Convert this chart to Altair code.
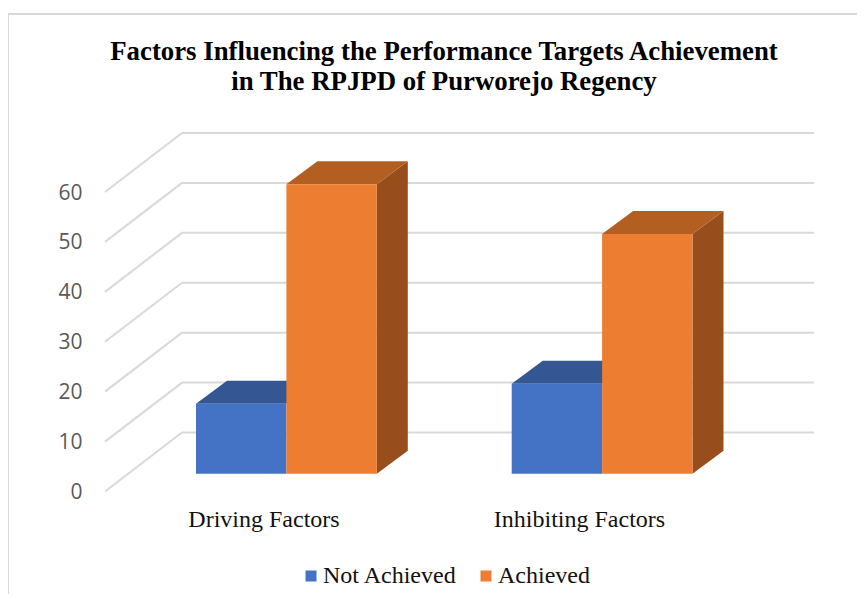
import altair as alt
import pandas as pd

TITLE_LINES = ["Factors Influencing the Performance Targets Achievement",
               "in The RPJPD of Purworejo Regency"]
CATEGORIES = ["Driving Factors", "Inhibiting Factors"]
SERIES = ["Not Achieved", "Achieved"]
NOT_ACHIEVED = [14, 18]
ACHIEVED = [58, 48]
TICKS = [0, 10, 20, 30, 40, 50, 60]

# projection constants of the 3-D look (x in px from the front-left corner, y in value units)
W, H = 752, 299.5
UNIT = H / 60
WALL_DX, WALL_LIFT = 77, 59 / UNIT
WALL_END = 709
FLOOR_LIFT = 17.8 / UNIT
BAR_DX, BAR_LIFT = 31, 23 / UNIT
BAR_W = 90.4
GROUP_X = [91, 406.7]
LABEL_X = [158.5, 474]

BLUE, ORANGE = "#4472c4", "#ed7d31"
BLUE_TOP, ORANGE_TOP, ORANGE_SIDE = "#345793", "#b45f22", "#984e1c"
GRID = "#d9d9d9"
SERIF = "Liberation Serif"

x_scale = alt.Scale(domain=[0, W], range=[0, W], nice=False, zero=False)
y_scale = alt.Scale(domain=[0, 60], nice=False, zero=False)

x_axis = alt.Axis(values=LABEL_X, ticks=False, domain=False, grid=False, labelPadding=16,
                  labelFont=SERIF, labelFontSize=24, labelColor="#111111",
                  labelExpr=f"datum.value < 300 ? '{CATEGORIES[0]}' : '{CATEGORIES[1]}'")
y_axis = alt.Axis(values=TICKS, ticks=False, domain=False, grid=False, labelPadding=23, labelOffset=1,
                  labelFont="Open Sans", labelFontSize=21, labelColor="#595959")
X = alt.X("x:Q", scale=x_scale, title=None, axis=x_axis, stack=None)
Y = alt.Y("y:Q", scale=y_scale, title=None, axis=y_axis, stack=None)

fronts, face_layers_top, face_layers_side = {}, {}, {}
for gi, cat in enumerate(CATEGORIES):
    for si, (name, vals) in enumerate(zip(SERIES, [NOT_ACHIEVED, ACHIEVED])):
        v = vals[gi]
        x0 = GROUP_X[gi] + si * BAR_W
        x1 = x0 + BAR_W
        yb = FLOOR_LIFT
        yt = FLOOR_LIFT + v
        fronts.setdefault(name, []).append(dict(series=name, x=x0, x2=x1, y=yb, y2=yt))
        face_layers_top.setdefault(name, []).append(pd.DataFrame([
            dict(x=x0, x2=x1, y=yt),
            dict(x=x0 + BAR_DX, x2=x1 + BAR_DX, y=yt + BAR_LIFT)]))
        face_layers_side.setdefault(name, []).append(pd.DataFrame([
            dict(x=x1, y=yt, y2=yb),
            dict(x=x1 + BAR_DX, y=yt + BAR_LIFT, y2=yb + BAR_LIFT)]))

diag = pd.DataFrame([dict(t=t, x=x, y=t + l) for t in TICKS for x, l in ((0, 0), (WALL_DX, WALL_LIFT))])
back = pd.DataFrame([dict(x=WALL_DX, x2=WALL_END, y=t + WALL_LIFT) for t in TICKS])

one = pd.DataFrame({"a": [0]})
frame_h = alt.Chart(one).mark_rule(color=GRID, strokeWidth=2).encode(
    x=alt.value(-97), x2=alt.value(W), y=alt.value(-178))
frame_v = alt.Chart(one).mark_rule(color=GRID, strokeWidth=2).encode(
    x=alt.value(-97), y=alt.value(-178), y2=alt.value(H + 103))

grid_d = alt.Chart(diag).mark_line(color=GRID, strokeWidth=2).encode(x=X, y=Y, detail="t:N")
grid_b = alt.Chart(back).mark_rule(color=GRID, strokeWidth=2).encode(x=X, x2="x2:Q", y=Y)


def tops(name, color):
    return [alt.Chart(df).mark_area(orient="horizontal", color=color).encode(x=X, x2="x2:Q", y=Y)
            for df in face_layers_top[name]]


def sides(name, color):
    return [alt.Chart(df).mark_area(orient="vertical", color=color).encode(x=X, y=Y, y2="y2:Q")
            for df in face_layers_side[name]]


def front_layer(name):
    return alt.Chart(pd.DataFrame(fronts[name])).mark_rect().encode(
        x=X, x2="x2:Q", y=Y, y2="y2:Q",
        color=alt.Color("series:N", scale=alt.Scale(domain=SERIES, range=[BLUE, ORANGE]),
                        sort=SERIES, title=None,
                        legend=alt.Legend(orient="none", legendX=194, legendY=372, direction="horizontal",
                                          columns=2, symbolType="square", symbolSize=121,
                                          symbolStrokeWidth=0, labelFont=SERIF, labelFontSize=24,
                                          labelColor="#111111", labelOffset=0, columnPadding=17,
                                          labelLimit=300)))


layers = [frame_h, frame_v, grid_d, grid_b]
layers += tops("Not Achieved", BLUE_TOP) + [front_layer("Not Achieved")]
layers += sides("Achieved", ORANGE_SIDE) + tops("Achieved", ORANGE_TOP) + [front_layer("Achieved")]

chart = alt.layer(*layers).properties(
    width=W, height=H,
    autosize=alt.AutoSizeParams(type="none"),
    padding={"left": 97, "top": 184, "right": 0, "bottom": 102.5},
    title=alt.TitleParams(text=TITLE_LINES, anchor="middle", frame="group", dx=-37, offset=-83,
                          font=SERIF, fontWeight="bold", fontSize=26.8, lineHeight=30, color="#000000"),
).configure_view(stroke=None)

chart.save("out.html", embed_options={"renderer": "svg", "actions": False})
